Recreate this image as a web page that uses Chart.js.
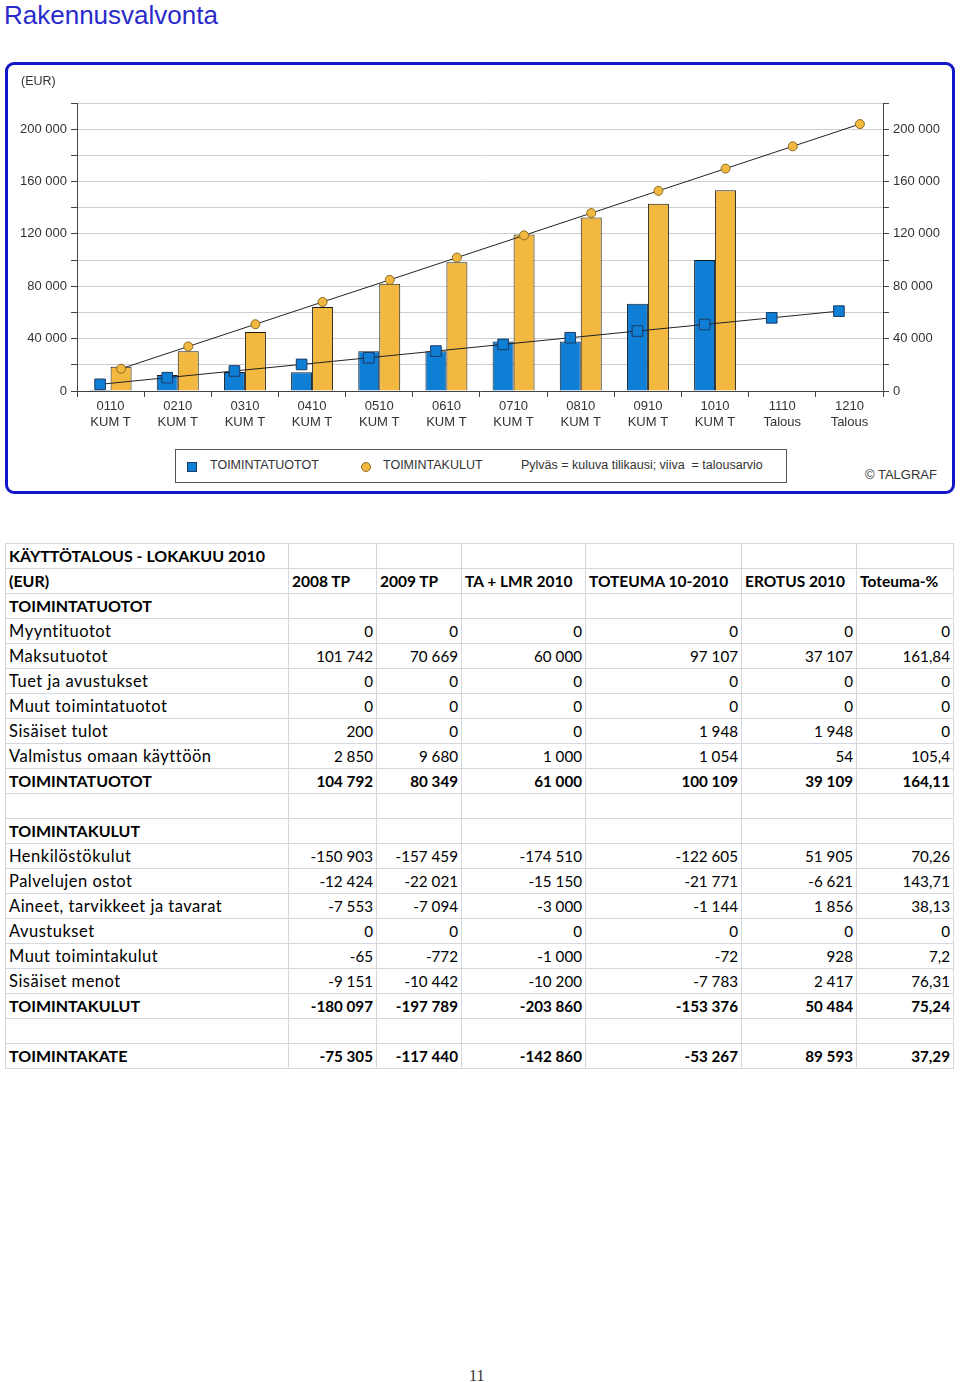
<!DOCTYPE html>
<html>
<head>
<meta charset="utf-8">
<script src="https://cdn.jsdelivr.net/npm/chart.js@4/dist/chart.umd.min.js"></script>
<style>
  html, body { margin:0; padding:0; background:#fff; }
  body { width:960px; height:1382px; position:relative; overflow:hidden; font-family:"Liberation Sans", Arial, sans-serif; }
  #title { position:absolute; left:4px; top:0px; font-size:26px; color:#2a2acb; font-family:"Liberation Sans", Arial, sans-serif; }
  #frame { position:absolute; left:5px; top:62px; width:944px; height:426px; border:3px solid #1414c8; border-radius:9px; }
  #chartWrap { position:absolute; left:0; top:62px; width:960px; height:380px; }
  #eur { position:absolute; left:21px; top:74px; font-size:12.5px; color:#333; }
  #legend { position:absolute; left:175px; top:449px; width:610px; height:32px; border:1px solid #555; font-size:12.5px; color:#333; }
  #legend span { position:absolute; top:8px; white-space:pre; }
  .sq { position:absolute; left:11px; top:12px; width:8px; height:8px; background:#0f7fd6; border:1px solid #1a3a66; }
  .ci { position:absolute; left:185px; top:12px; width:8px; height:8px; background:#f2b840; border:1px solid #8a6a20; border-radius:50%; }
  #copy { position:absolute; left:865px; top:467px; font-size:13px; color:#333; }
  #tbl { position:absolute; left:5px; top:543px; border-collapse:collapse; table-layout:fixed; font-family:Lato, "Open Sans", sans-serif; font-size:15.2px; color:#000; }
  #tbl td { border:1px solid #d6d8df; height:24px; padding:0 3px; white-space:nowrap; overflow:hidden; line-height:24px; }
  #tbl td.n { text-align:right; }
  #tbl td.l { font-size:16.5px; letter-spacing:0.5px; }
  #tbl tr.b td { font-weight:bold; }
  #tbl tr.b td.l { font-size:16px; letter-spacing:0; }
  #tbl tr.h td { font-size:15.5px; }
  #page { position:absolute; left:469px; top:1367px; font-family:"Liberation Serif", "DejaVu Serif", serif; font-size:16px; color:#333; }
</style>
</head>
<body>
<div id="title">Rakennusvalvonta</div>
<div id="frame"></div>
<div id="chartWrap"><canvas id="c" width="960" height="380"></canvas></div>
<div id="eur">(EUR)</div>
<div id="legend">
  <div class="sq"></div><span style="left:34px">TOIMINTATUOTOT</span>
  <div class="ci"></div><span style="left:207px">TOIMINTAKULUT</span>
  <span style="left:345px">Pylväs = kuluva tilikausi; viiva  = talousarvio</span>
</div>
<div id="copy">© TALGRAF</div>
<table id="tbl"></table>
<div id="page">11</div>

<script>
// ---------- Chart data ----------
const months = ['0110','0210','0310','0410','0510','0610','0710','0810','0910','1010','1110','1210'];
const periodTypes = ['KUM T','KUM T','KUM T','KUM T','KUM T','KUM T','KUM T','KUM T','KUM T','KUM T','Talous','Talous'];
const tuototActual = [800, 12300, 14600, 14300, 30400, 30400, 37800, 37800, 66700, 100109, null, null];
const kulutActual  = [18600, 30400, 45000, 64100, 82000, 98300, 119500, 132600, 143000, 153376, null, null];
const tuototBudget = [5100, 10200, 15300, 20300, 25400, 30500, 35600, 40700, 45800, 50800, 55900, 61000];
const kulutBudget  = [17000, 34000, 51000, 68000, 84900, 101900, 118900, 135900, 152900, 169900, 186900, 203900];
const yTickValues = [0, 40000, 80000, 120000, 160000, 200000];

// ---------- Table data ----------
const tableHeader = ['(EUR)', '2008 TP', '2009 TP', 'TA + LMR 2010', 'TOTEUMA 10-2010', 'EROTUS 2010', 'Toteuma-%'];
const tableRows = [
  ['KÄYTTÖTALOUS - LOKAKUU 2010', '', '', '', '', '', '', 'b'],
  ['TOIMINTATUOTOT', '', '', '', '', '', '', 'b'],
  ['Myyntituotot', '0', '0', '0', '0', '0', '0', ''],
  ['Maksutuotot', '101 742', '70 669', '60 000', '97 107', '37 107', '161,84', ''],
  ['Tuet ja avustukset', '0', '0', '0', '0', '0', '0', ''],
  ['Muut toimintatuotot', '0', '0', '0', '0', '0', '0', ''],
  ['Sisäiset tulot', '200', '0', '0', '1 948', '1 948', '0', ''],
  ['Valmistus omaan käyttöön', '2 850', '9 680', '1 000', '1 054', '54', '105,4', ''],
  ['TOIMINTATUOTOT', '104 792', '80 349', '61 000', '100 109', '39 109', '164,11', 'b'],
  ['', '', '', '', '', '', '', ''],
  ['TOIMINTAKULUT', '', '', '', '', '', '', 'b'],
  ['Henkilöstökulut', '-150 903', '-157 459', '-174 510', '-122 605', '51 905', '70,26', ''],
  ['Palvelujen ostot', '-12 424', '-22 021', '-15 150', '-21 771', '-6 621', '143,71', ''],
  ['Aineet, tarvikkeet ja tavarat', '-7 553', '-7 094', '-3 000', '-1 144', '1 856', '38,13', ''],
  ['Avustukset', '0', '0', '0', '0', '0', '0', ''],
  ['Muut toimintakulut', '-65', '-772', '-1 000', '-72', '928', '7,2', ''],
  ['Sisäiset menot', '-9 151', '-10 442', '-10 200', '-7 783', '2 417', '76,31', ''],
  ['TOIMINTAKULUT', '-180 097', '-197 789', '-203 860', '-153 376', '50 484', '75,24', 'b'],
  ['', '', '', '', '', '', '', ''],
  ['TOIMINTAKATE', '-75 305', '-117 440', '-142 860', '-53 267', '89 593', '37,29', 'b']
];
const colWidths = [283, 88, 85, 124, 156, 115, 97];

// build table
(function buildTable() {
  const t = document.getElementById('tbl');
  const cg = document.createElement('colgroup');
  colWidths.forEach(w => { const c = document.createElement('col'); c.style.width = w + 'px'; cg.appendChild(c); });
  t.appendChild(cg);
  const addRow = (cells, bold, headerRow) => {
    const tr = document.createElement('tr');
    tr.className = (bold ? 'b ' : '') + (headerRow ? 'h' : '');
    cells.forEach((txt, i) => {
      const td = document.createElement('td');
      td.textContent = txt;
      if (i === 0) td.className = 'l';
      else if (!headerRow) td.className = 'n';
      tr.appendChild(td);
    });
    t.appendChild(tr);
  };
  tableRows.forEach((r, idx) => {
    addRow(r.slice(0, 7), r[7] === 'b', false);
    if (idx === 0) addRow(tableHeader, true, true);
  });
})();

// ---------- Chart ----------
const fmt = v => String(v).replace(/\B(?=(\d{3})+(?!\d))/g, ' ');

const alignLines = {
  id: 'alignLines',
  afterDatasetsUpdate(chart) {
    chart.data.datasets.forEach((ds, i) => {
      if (ds.type === 'line' && ds.alignTo !== undefined) {
        const barMeta = chart.getDatasetMeta(ds.alignTo);
        const lineMeta = chart.getDatasetMeta(i);
        lineMeta.data.forEach((pt, j) => {
          const bar = barMeta.data[j];
          if (bar && isFinite(bar.x)) pt.x = bar.x;
        });
      }
    });
  }
};

const axisColor = '#444';
const gridColor = '#cfcfcf';
const tickFont = { family: '"Liberation Sans", Arial, sans-serif', size: 13 };

new Chart(document.getElementById('c'), {
  data: {
    labels: months.map((m, i) => [m, periodTypes[i]]),
    datasets: [
      { type: 'bar', label: 'TOIMINTATUOTOT', data: tuototActual, backgroundColor: '#0f7fd6', borderColor: '#1a1a1a', borderWidth: 1, order: 1, yAxisID: 'y' },
      { type: 'bar', label: 'TOIMINTAKULUT', data: kulutActual, backgroundColor: '#f2b840', borderColor: '#1a1a1a', borderWidth: 1, order: 1, yAxisID: 'y' },
      { type: 'line', label: 'TOIMINTATUOTOT talousarvio', data: tuototBudget, alignTo: 0, borderColor: '#222', borderWidth: 1, pointStyle: 'rect', pointRadius: 7.5, pointBackgroundColor: '#0f7fd6', pointBorderColor: '#1a3a66', pointBorderWidth: 1, tension: 0, order: 0, yAxisID: 'y' },
      { type: 'line', label: 'TOIMINTAKULUT talousarvio', data: kulutBudget, alignTo: 1, borderColor: '#222', borderWidth: 1, pointStyle: 'circle', pointRadius: 4.5, pointBackgroundColor: '#f2b840', pointBorderColor: '#8a6a20', pointBorderWidth: 1, tension: 0, order: 0, yAxisID: 'y' }
    ]
  },
  options: {
    responsive: false,
    animation: false,
    events: [],
    layout: { padding: { top: 41, left: 0, right: 0, bottom: 0 } },
    plugins: { legend: { display: false }, tooltip: { enabled: false } },
    datasets: { bar: { categoryPercentage: 0.625, barPercentage: 1.0 } },
    scales: {
      x: {
        type: 'category',
        offset: true,
        grid: { drawOnChartArea: false, drawTicks: true, tickLength: 6, color: axisColor, tickColor: axisColor, offset: true },
        border: { display: true, color: axisColor, width: 1 },
        ticks: { color: '#333', font: tickFont, padding: 2, maxRotation: 0, autoSkip: false },
        afterFit: s => { s.height = 51; }
      },
      y: {
        position: 'left',
        min: 0, max: 220000,
        ticks: { stepSize: 20000, color: '#333', font: tickFont, padding: 4, callback: v => yTickValues.includes(v) ? fmt(v) : '' },
        grid: { color: gridColor, tickColor: axisColor, tickLength: 6, drawTicks: true },
        border: { display: true, color: axisColor, width: 1 },
        afterFit: s => { s.width = 77; }
      },
      y2: {
        position: 'right',
        min: 0, max: 220000,
        ticks: { stepSize: 20000, color: '#333', font: tickFont, padding: 4, callback: v => yTickValues.includes(v) ? fmt(v) : '' },
        grid: { drawOnChartArea: false, tickColor: axisColor, tickLength: 6, drawTicks: true },
        border: { display: true, color: axisColor, width: 1 },
        afterFit: s => { s.width = 77; }
      }
    }
  },
  plugins: [alignLines]
});
</script>
</body>
</html>
